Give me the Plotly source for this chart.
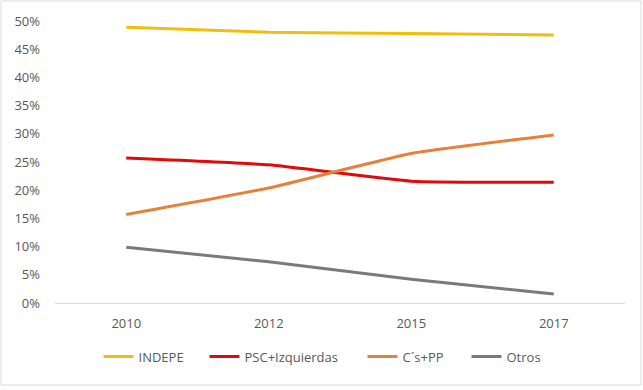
import plotly.graph_objects as go

years = ["2010", "2012", "2015", "2017"]
indepe = [0.489, 0.480, 0.478, 0.475]
psc = [0.257, 0.245, 0.216, 0.214]
cspp = [0.157, 0.204, 0.265, 0.298]
otros = [0.099, 0.073, 0.042, 0.016]

series = [
    ("INDEPE", indepe, "#F2BE0D"),
    ("PSC+Izquierdas", psc, "#E00A0A"),
    ("C´s+PP", cspp, "#E8803A"),
    ("Otros", otros, "#7A7A7A"),
]
legend_starts_px = [104, 210, 368, 472]

fig = go.Figure()
legend_ids = ["legend", "legend2", "legend3", "legend4"]
for (name, vals, col), lid in zip(series, legend_ids):
    fig.add_trace(go.Scatter(
        x=years, y=vals, name=name, mode="lines", legend=lid,
        line=dict(color=col, width=3, shape="spline", smoothing=0.4),
    ))

font = dict(family="Open Sans, sans-serif", size=13, color="#595959")
layout_legends = {}
for lid, px in zip(legend_ids, legend_starts_px):
    layout_legends[lid] = dict(orientation="h", x=(px - 5.5 - 55) / 570, xanchor="left",
                               y=-0.19, yanchor="middle", font=font, itemwidth=30,
                               bgcolor="rgba(0,0,0,0)")

fig.update_layout(
    width=643, height=390,
    margin=dict(l=55, r=18, t=21, b=87),
    paper_bgcolor="white", plot_bgcolor="white",
    font=font,
    showlegend=True,
    xaxis=dict(type="category", range=[-0.5, 3.5], showgrid=False, showline=True,
               linecolor="#D9D9D9", linewidth=1, ticks="", zeroline=False,
               tickfont=font, ticklabelstandoff=8),
    yaxis=dict(range=[0, 0.5], dtick=0.05, tickformat=".0%", showgrid=False,
               zeroline=False, showline=False, ticks="", tickfont=font,
               ticklabelstandoff=14),
    shapes=[dict(type="rect", xref="paper", yref="paper",
                 x0=-54/570, x1=(641-55)/570, y0=-(385-303)/282, y1=(303-1)/282,
                 line=dict(color="#D9D9D9", width=1), layer="below")],
    **layout_legends,
)

fig.write_html("out.html", config={"displayModeBar": False},
               post_script="document.body.style.margin='0';")
